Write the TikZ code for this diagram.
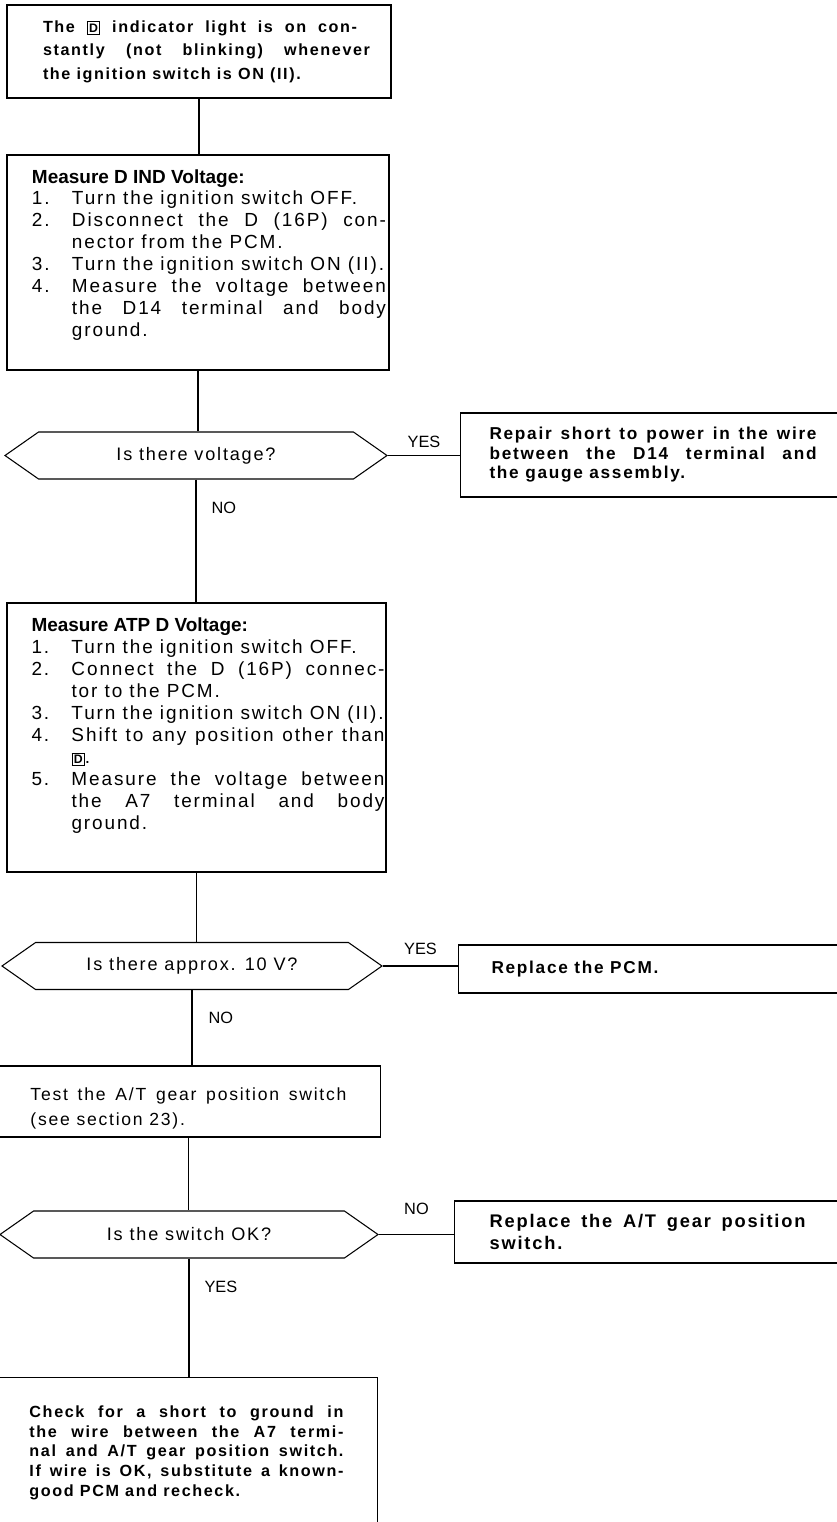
\documentclass[tikz,border=0pt]{standalone}
\usepackage{fontspec}
\setmainfont{Liberation Sans}[LetterSpace=10]
\newfontfamily\ttlfont{Liberation Sans}
\usetikzlibrary{shapes.symbols}

\newlength{\unitpx}
\setlength{\unitpx}{0.02cm}
\newcommand{\boxD}{{\setlength{\fboxsep}{0.8pt}\setlength{\fboxrule}{0.5pt}\fbox{\ttlfont\bfseries\scriptsize D}}}
\newcommand{\itm}[2]{\par\noindent\hangindent=40\unitpx\hangafter=1\makebox[40\unitpx][l]{#1}#2}
\hyphenpenalty=10000
\pretolerance=10000
\tolerance=10000

\begin{document}
\begin{tikzpicture}[x=\unitpx, y=-\unitpx,
    box/.style={draw, line width=0.6pt, align=justify, inner ysep=0pt},
    ask/.style={draw, line width=0.6pt, signal, signal to=east and west, signal pointer angle=70,
                minimum height=47\unitpx, inner sep=0pt, font=\fontsize{10.3}{12}\selectfont},
    lbl/.style={inner sep=0pt, font=\ttlfont\fontsize{9.3}{11}\selectfont},
    ln/.style={line width=0.6pt}
  ]
  \useasboundingbox (0,0) rectangle (837,1522);

  % main column
  \node[box, text width=342\unitpx, inner xsep=21\unitpx, minimum height=93\unitpx,
        font=\bfseries\fontsize{9.2}{13.4}\selectfont] (start) at (199,51.5)
    {\leftskip=15\unitpx\noindent The \boxD{} indicator light is on con-\kern13\unitpx\linebreak stantly (not blinking) whenever\linebreak the ignition switch is ON (II).\par};
  \node[box, text width=376\unitpx, inner xsep=3\unitpx, minimum height=215\unitpx,
        font=\fontsize{10.8}{12.5}\selectfont] (dind) at (198,262.5)
    {\leftskip=22\unitpx\noindent{\ttlfont\bfseries\fontsize{10.8}{12.5}\selectfont Measure D IND Voltage:}
     \itm{1.}{Turn the ignition switch OFF.}
     \itm{2.}{Disconnect the D (16P) con-\linebreak nector from the PCM.}
     \itm{3.}{Turn the ignition switch ON (II).}
     \itm{4.}{Measure the voltage between\linebreak the D14 terminal and body\linebreak ground.\rule[-19\unitpx]{0pt}{0pt}}\par};
  \node[ask, minimum width=382\unitpx] (qvolt) at (196,455.5) {Is there voltage?};
  \node[box, text width=376\unitpx, inner xsep=1.5\unitpx, minimum height=269\unitpx,
        font=\fontsize{10.8}{12.5}\selectfont] (atp) at (196.5,737.5)
    {\leftskip=23\unitpx\noindent{\ttlfont\bfseries\fontsize{10.8}{12.5}\selectfont Measure ATP D Voltage:}
     \itm{1.}{Turn the ignition switch OFF.}
     \itm{2.}{Connect the D (16P) connec-\linebreak tor to the PCM.}
     \itm{3.}{Turn the ignition switch ON (II).}
     \itm{4.}{Shift to any position other than\linebreak \boxD.}
     \itm{5.}{Measure the voltage between\linebreak the A7 terminal and body\linebreak ground.\rule[-28\unitpx]{0pt}{0pt}}\par};
  \node[ask, minimum width=380\unitpx] (q10v) at (192,966) {Is there approx. 10 V?};
  \node[box, anchor=east, text width=316\unitpx, inner xsep=34\unitpx, minimum height=71\unitpx,
        font=\fontsize{10}{14}\selectfont] (testsw) at (381,1101.5)
    {\rule{0pt}{15pt}Test the A/T gear position switch\linebreak (see section 23).};
  \node[ask, minimum width=378\unitpx] (qsw) at (189,1234.5) {Is the switch OK?};
  \node[box, anchor=north east, text width=314\unitpx, inner xsep=34\unitpx, minimum height=150\unitpx,
        font=\bfseries\fontsize{9.2}{11.2}\selectfont] (chk) at (378,1377)
    {Check for a short to ground in\linebreak the wire between the A7 termi-\linebreak nal and A/T gear position switch.\linebreak If wire is OK, substitute a known-\linebreak good PCM and recheck.};

  % right column
  \node[box, anchor=west, text width=327\unitpx, inner xsep=29\unitpx, minimum height=84\unitpx,
        font=\bfseries\fontsize{9.8}{11.1}\selectfont] (rep1) at (460,455)
    {Repair short to power in the wire\linebreak between the D14 terminal and\linebreak the gauge assembly.};
  \node[box, anchor=west, text width=330\unitpx, inner xsep=33\unitpx, minimum height=48\unitpx,
        font=\bfseries\fontsize{9.8}{11.1}\selectfont] (rep2) at (458,969)
    {Replace the PCM.};
  \node[box, anchor=west, text width=316\unitpx, inner xsep=35\unitpx, minimum height=62\unitpx,
        font=\bfseries\fontsize{10.4}{12.5}\selectfont] (rep3) at (454,1232)
    {Replace the A/T gear position\linebreak switch.};

  % connectors
  \draw[ln] (start.south) -- (start.south |- dind.north);
  \draw[ln] (dind.south) -- (dind.south |- qvolt.north);
  \draw[ln] (qvolt.east) -- node[lbl, above=7\unitpx] (yes1) {YES} (qvolt.east -| rep1.west);
  \draw[ln] (qvolt.south) -- node[lbl, pos=0.23, anchor=west, xshift=15\unitpx] (no1) {NO} (qvolt.south |- atp.north);
  \draw[ln] (atp.south) -- (atp.south |- q10v.north);
  \draw[ln] (q10v.east) -- node[lbl, above=11\unitpx] (yes2) {YES} (q10v.east -| rep2.west);
  \draw[ln] (q10v.south) -- node[lbl, pos=0.37, anchor=west, xshift=16\unitpx] (no2) {NO} (q10v.south |- testsw.north);
  \draw[ln] (testsw.south) -- (testsw.south |- qsw.north);
  \draw[ln] (qsw.east) -- node[lbl, above=19\unitpx] (no3) {NO} (qsw.east -| rep3.west);
  \draw[ln] (qsw.south) -- node[lbl, pos=0.24, anchor=west, xshift=15\unitpx] (yes3) {YES} (qsw.south |- chk.north);
\end{tikzpicture}
\end{document}
